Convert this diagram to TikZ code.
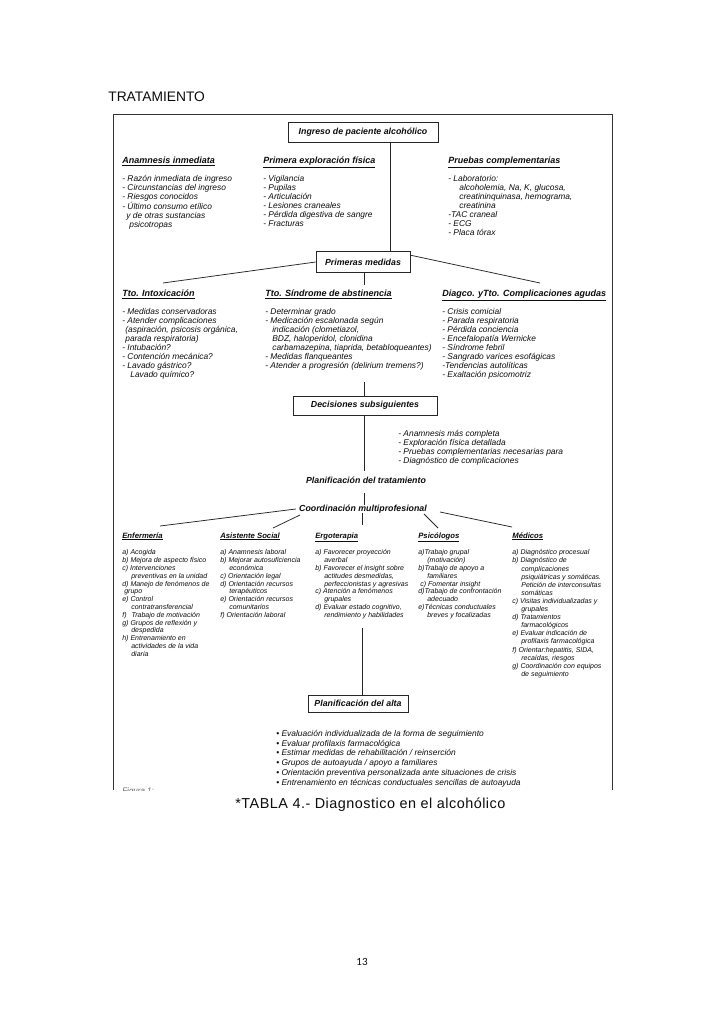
\documentclass[tikz,border=0pt]{standalone}
\usepackage{fontspec}
\setmainfont{Liberation Sans}
\newfontfamily\carl{Carlito}
\newfontfamily\capfont[LetterSpace=3.5]{Liberation Sans}
\begin{document}
\begin{tikzpicture}[x=1pt,y=-1pt,line width=0.7pt,
  every node/.style={inner sep=0pt,text=black!95},
  hd/.style={font=\fontsize{9}{10}\selectfont\bfseries\itshape,anchor=base west},
  tlist/.style={font=\fontsize{8.4}{9}\selectfont\itshape,align=left,anchor=north west},
  blist/.style={font=\fontsize{7}{7.8}\selectfont\itshape,align=left,anchor=north west},
  sbh/.style={font=\fontsize{7.7}{8}\selectfont\bfseries\itshape,anchor=base west},
  cbox/.style={draw=black!85,line width=0.7pt,font=\fontsize{8.8}{9}\selectfont\bfseries\itshape},
  ctext/.style={font=\fontsize{8.8}{9}\selectfont\bfseries\itshape},
  conn/.style={draw=black!85,line width=0.75pt}]
\useasboundingbox (0,0) rectangle (728,1029);
\fill[white] (0,0) rectangle (728,1029);

% page title
\node[font=\fontsize{13.8}{15}\selectfont,anchor=base west] (title) at (108,101) {TRATAMIENTO};

% frame (bottom cut off)
\draw[black!80,line width=0.8pt] (113,790) -- (113,114) -- (612,114) -- (612,790);

% central boxes
\node[cbox,minimum width=150pt,minimum height=20pt] (ingreso) at (363,132) {Ingreso de paciente alcohólico};
\node[cbox,minimum width=94pt,minimum height=21pt] (pm) at (363,262) {Primeras medidas};
\node[cbox,minimum width=144pt,minimum height=19pt] (dec) at (365,405.5) {Decisiones subsiguientes};
\node[ctext] (plan) at (366,480) {Planificación del tratamiento};
\node[ctext] (coord) at (363,509) {Coordinación multiprofesional};
\node[cbox,minimum width=100pt,minimum height=17pt] (alta) at (358,703.5) {Planificación del alta};

% top section
\node[hd] (h1) at (122,163.5) {\underline{Anamnesis inmediata}};
\node[tlist] (l1) at (122,174.4) {\rule{0pt}{6.6pt}- Razón inmediata de ingreso\\- Circunstancias del ingreso\\- Riesgos conocidos\\- Último consumo etílico\\\hspace*{4pt}y de otras sustancias\\\hspace*{7pt}psicotropas};
\node[hd] (h2) at (263,163.5) {\underline{Primera exploración física}};
\node[tlist] (l2) at (263,174.4) {\rule{0pt}{6.6pt}- Vigilancia\\- Pupilas\\- Articulación\\- Lesiones craneales\\- Pérdida digestiva de sangre\\- Fracturas};
\node[hd] (h3) at (448,163.5) {\underline{Pruebas complementarias}};
\node[tlist] (l3) at (448,174.4) {\rule{0pt}{6.6pt}- Laboratorio:\\\hspace*{11pt}alcoholemia, Na, K, glucosa,\\\hspace*{11pt}creatininquinasa, hemograma,\\\hspace*{11pt}creatinina\\-TAC craneal\\- ECG\\- Placa tórax};

% second section
\node[hd] (h4) at (122,296.5) {\underline{Tto. Intoxicación}};
\node[tlist] (l4) at (122,307.4) {\rule{0pt}{6.6pt}- Medidas conservadoras\\- Atender complicaciones\\\hspace*{3pt}(aspiración, psicosis orgánica,\\\hspace*{3pt}parada respiratoria)\\- Intubación?\\- Contención mecánica?\\- Lavado gástrico?\\\hspace*{8pt}Lavado químico?};
\node[hd] (h5) at (265,296.5) {\underline{Tto. Síndrome de abstinencia}};
\node[tlist] (l5) at (265,307.4) {\rule{0pt}{6.6pt}- Determinar grado\\- Medicación escalonada según\\\hspace*{7pt}indicación (clometiazol,\\\hspace*{7pt}BDZ, haloperidol, clonidina\\\hspace*{7pt}carbamazepina, tiaprida, betabloqueantes)\\- Medidas flanqueantes\\- Atender a progresión (delirium tremens?)};
\node[hd] (h6) at (442,296.5) {\underline{Diagco. yTto. Complicaciones agudas}};
\node[tlist] (l6) at (442,307.4) {\rule{0pt}{6.6pt}- Crisis comicial\\- Parada respiratoria\\- Pérdida conciencia\\- Encefalopatía Wernicke\\- Síndrome febril\\- Sangrado varices esofágicas\\-Tendencias autolíticas\\- Exaltación psicomotriz};

% decisiones list
\node[tlist] (l7) at (398,429.4) {\rule{0pt}{6.6pt}- Anamnesis más completa\\- Exploración física detallada\\- Pruebas complementarias necesarias para\\- Diagnóstico de complicaciones};

% bottom columns
\node[sbh] (enf) at (122,538) {\underline{Enfermería}};
\node[blist] (l8) at (122,548.9) {\rule{0pt}{5.6pt}a) Acogida\\b) Mejora de aspecto físico\\c) Intervenciones\\\hspace*{9pt}preventivas en la unidad\\d) Manejo de fenómenos de\\\hspace*{2pt}grupo\\e) Control\\\hspace*{9pt}contratransferencial\\f)\hspace*{3pt} Trabajo de motivación\\g) Grupos de reflexión y\\\hspace*{9pt}despedida\\h) Entrenamiento en\\\hspace*{9pt}actividades de la vida\\\hspace*{9pt}diaria};
\node[sbh] (asi) at (220,538) {\underline{Asistente Social}};
\node[blist] (l9) at (220,548.9) {\rule{0pt}{5.6pt}a) Anamnesis laboral\\b) Mejorar autosuficiencia\\\hspace*{9pt}económica\\c) Orientación legal\\d) Orientación recursos\\\hspace*{9pt}terapéuticos\\e) Orientación recursos\\\hspace*{9pt}comunitarios\\f) Orientación laboral};
\node[sbh] (erg) at (315,538) {\underline{Ergoterapia}};
\node[blist] (l10) at (315,548.9) {\rule{0pt}{5.6pt}a) Favorecer proyección\\\hspace*{9pt}averbal\\b) Favorecer el insight sobre\\\hspace*{9pt}actitudes desmedidas,\\\hspace*{9pt}perfeccionistas y agresivas\\c) Atención a fenómenos\\\hspace*{9pt}grupales\\d) Evaluar estado cognitivo,\\\hspace*{9pt}rendimiento y habilidades};
\node[sbh] (psi) at (418,538) {\underline{Psicólogos}};
\node[blist] (l11) at (418,548.9) {\rule{0pt}{5.6pt}a)Trabajo grupal\\\hspace*{9pt}(motivación)\\b)Trabajo de apoyo a\\\hspace*{9pt}familiares\\\hspace*{2pt}c) Fomentar insight\\d)Trabajo de confrontación\\\hspace*{9pt}adecuado\\e)Técnicas conductuales\\\hspace*{9pt}breves y focalizadas};
\node[sbh] (med) at (512,538) {\underline{Médicos}};
\node[blist,font=\fontsize{7}{8.1}\selectfont\itshape] (l12) at (512,548.9) {\rule{0pt}{5.6pt}a) Diagnóstico procesual\\b) Diagnóstico de\\\hspace*{9pt}complicaciones\\\hspace*{9pt}psiquiátricas y somáticas.\\\hspace*{9pt}Petición de interconsultas\\\hspace*{9pt}somáticas\\c) Visitas individualizadas y\\\hspace*{9pt}grupales\\d) Tratamientos\\\hspace*{9pt}farmacológicos\\e) Evaluar indicación de\\\hspace*{9pt}profilaxis farmacológica\\f) Orientar:hepatitis, SIDA,\\\hspace*{9pt}recaídas, riesgos\\g) Coordinación con equipos\\\hspace*{9pt}de seguimiento};

% alta list
\node[tlist,font=\fontsize{8.4}{9.8}\selectfont\itshape] (l13) at (276,729.4) {\rule{0pt}{6.6pt}• Evaluación individualizada de la forma de seguimiento\\• Evaluar profilaxis farmacológica\\• Estimar medidas de rehabilitación / reinserción\\• Grupos de autoayuda / apoyo a familiares\\• Orientación preventiva personalizada ante situaciones de crisis\\• Entrenamiento en técnicas conductuales sencillas de autoayuda};

% cut-off figure label
\begin{scope}
\clip (100,760) rectangle (220,790.5);
\node[font=\fontsize{8}{9}\selectfont\itshape,anchor=base west,text=black!60] (fig) at (122,793) {Figura 1:};
\end{scope}

% caption and page number
\node[font=\capfont\fontsize{14.4}{16}\selectfont,anchor=base west] (cap) at (235,808) {*TABLA 4.- Diagnostico en el alcohólico};
\node[font=\carl\fontsize{11}{12}\selectfont] (pg) at (362,962) {13};

% connector helper coordinates
\coordinate (cR) at (390,0);
\coordinate (cM) at (364,0);
\coordinate (eL1) at (163,283);
\coordinate (eR1) at (540,283);
\coordinate (m1) at (364,285);
\coordinate (m2) at (364,382);
\coordinate (p1) at (364,493);
\coordinate (eEnf) at (160,526);
\coordinate (eAsi) at (273,528);
\coordinate (sAsi) at (300,515);
\coordinate (eErg) at (362,525);
\coordinate (sPsi) at (424,514);
\coordinate (ePsi) at (438,528);
\coordinate (sMed) at (440,512);
\coordinate (eMed) at (512,527);
\coordinate (eAlta) at (362,628);

% connectors
\draw[conn] (ingreso.south -| cR) -- (pm.north -| cR);
\draw[conn] (pm.west) -- (eL1);
\draw[conn] ([yshift=-4pt]pm.north east) -- (eR1);
\draw[conn] (pm.south -| cM) -- (m1);
\draw[conn] (m2) -- (dec.north -| cM);
\draw[conn] (dec.south -| cM) -- ([yshift=5pt]plan.north -| cM);
\draw[conn] (p1) -- (coord.north -| cM);
\draw[conn] ([xshift=-3pt]coord.west) -- (eEnf);
\draw[conn] (sAsi) -- (eAsi);
\draw[conn] (coord.south -| eErg) -- (eErg);
\draw[conn] (sPsi) -- (ePsi);
\draw[conn] (sMed) -- (eMed);
\draw[conn] (eAlta) -- (alta.north -| eAlta);
\end{tikzpicture}
\end{document}
